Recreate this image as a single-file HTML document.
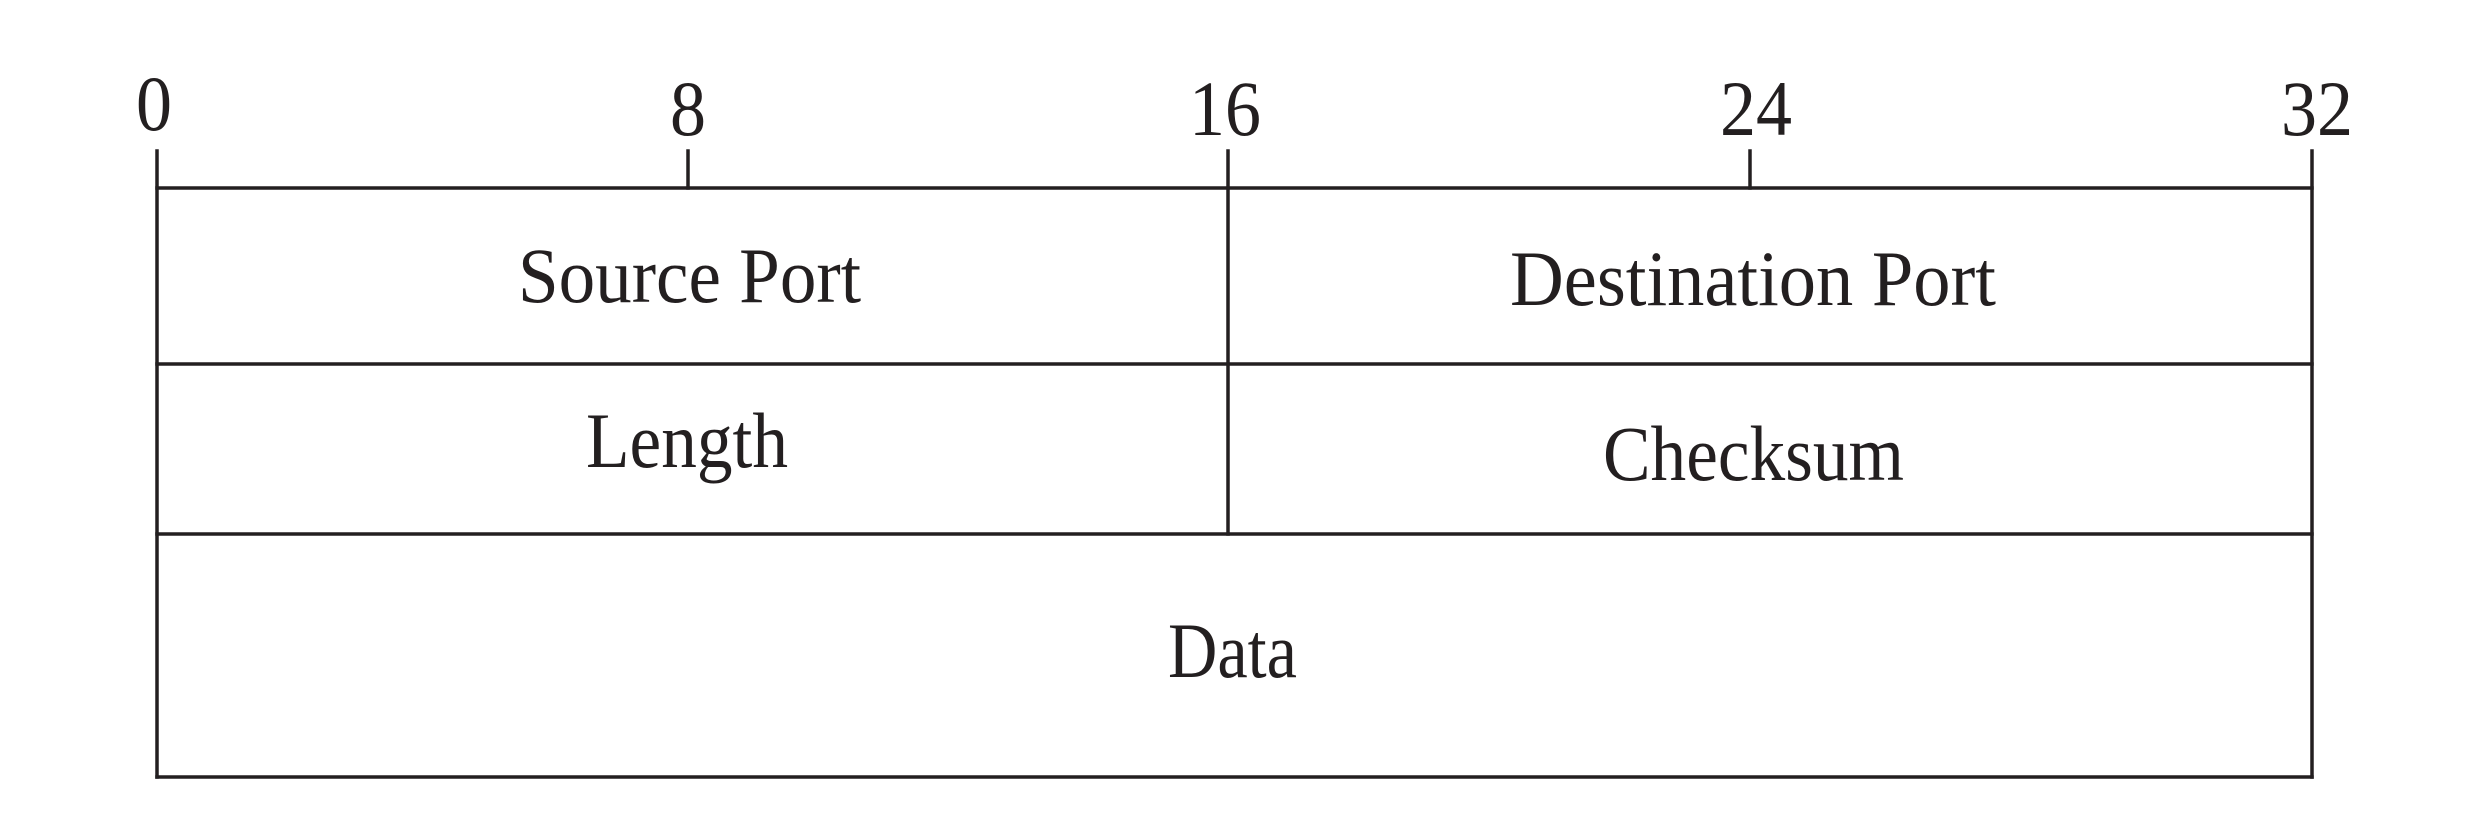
<!DOCTYPE html>
<html><head><style>html,body{margin:0;padding:0;background:#fff;}svg{display:block}</style></head>
<body>
<svg width="2492" height="822" viewBox="0 0 2492 822" xmlns="http://www.w3.org/2000/svg">
<g stroke="#231f20" stroke-width="3.5" fill="none" stroke-linecap="square">
<line x1="157" y1="188" x2="2312" y2="188"/>
<line x1="157" y1="364" x2="2312" y2="364"/>
<line x1="157" y1="534" x2="2312" y2="534"/>
<line x1="157" y1="777" x2="2312" y2="777"/>
<line x1="157" y1="151" x2="157" y2="777"/>
<line x1="2312" y1="151" x2="2312" y2="777"/>
<line x1="1228" y1="151" x2="1228" y2="534"/>
<line x1="688" y1="151" x2="688" y2="188"/>
<line x1="1750" y1="151" x2="1750" y2="188"/>
</g>
<g font-family="'Liberation Serif', serif" fill="#231f20" font-size="78">
<text x="154" y="130" text-anchor="middle" textLength="36" lengthAdjust="spacingAndGlyphs">0</text>
<text x="688" y="135" text-anchor="middle" textLength="36" lengthAdjust="spacingAndGlyphs">8</text>
<text x="1225" y="135" text-anchor="middle" textLength="72" lengthAdjust="spacingAndGlyphs">16</text>
<text x="1756" y="135" text-anchor="middle" textLength="72" lengthAdjust="spacingAndGlyphs">24</text>
<text x="2317" y="135" text-anchor="middle" textLength="72" lengthAdjust="spacingAndGlyphs">32</text>
<text x="518" y="302" textLength="343" lengthAdjust="spacingAndGlyphs">Source Port</text>
<text x="1510" y="305" textLength="486" lengthAdjust="spacingAndGlyphs">Destination Port</text>
<text x="586" y="467" textLength="202" lengthAdjust="spacingAndGlyphs">Length</text>
<text x="1603" y="480" textLength="301" lengthAdjust="spacingAndGlyphs">Checksum</text>
<text x="1168" y="677" textLength="129" lengthAdjust="spacingAndGlyphs">Data</text>
</g>
</svg>
</body></html>
